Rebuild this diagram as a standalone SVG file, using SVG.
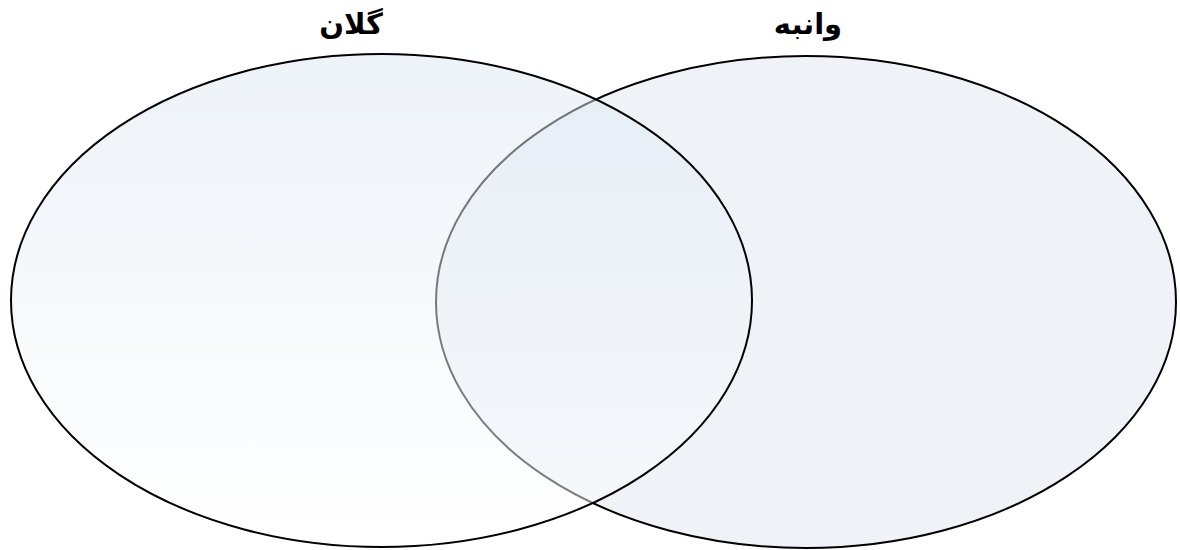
<svg xmlns="http://www.w3.org/2000/svg" width="1180" height="550" viewBox="0 0 1180 550">
  <defs>
    <linearGradient id="gLeft" x1="0" y1="0" x2="0" y2="1">
      <stop offset="0" stop-color="#dde7f2"/>
      <stop offset="1" stop-color="#ffffff"/>
    </linearGradient>
    <style>
      .set { stroke: #000000; stroke-width: 2; }
      .label { font-family: "DejaVu Sans", "Noto Sans", sans-serif; font-weight: bold; font-size: 29px; fill: #000000; text-anchor: middle; }
    </style>
  </defs>
  <rect width="1180" height="550" fill="#ffffff"/>
  <g id="set-right">
    <ellipse class="set" cx="806" cy="302" rx="370" ry="246" fill="#dfe8f1" fill-opacity="0.5"/>
    <text class="label" x="808" y="34">وانبه</text>
  </g>
  <g id="set-left">
    <ellipse class="set" cx="381.5" cy="300.5" rx="370.5" ry="246.5" fill="url(#gLeft)" fill-opacity="0.5"/>
    <text class="label" x="351" y="34">گلان</text>
  </g>
  <g id="connectors"/>
</svg>
